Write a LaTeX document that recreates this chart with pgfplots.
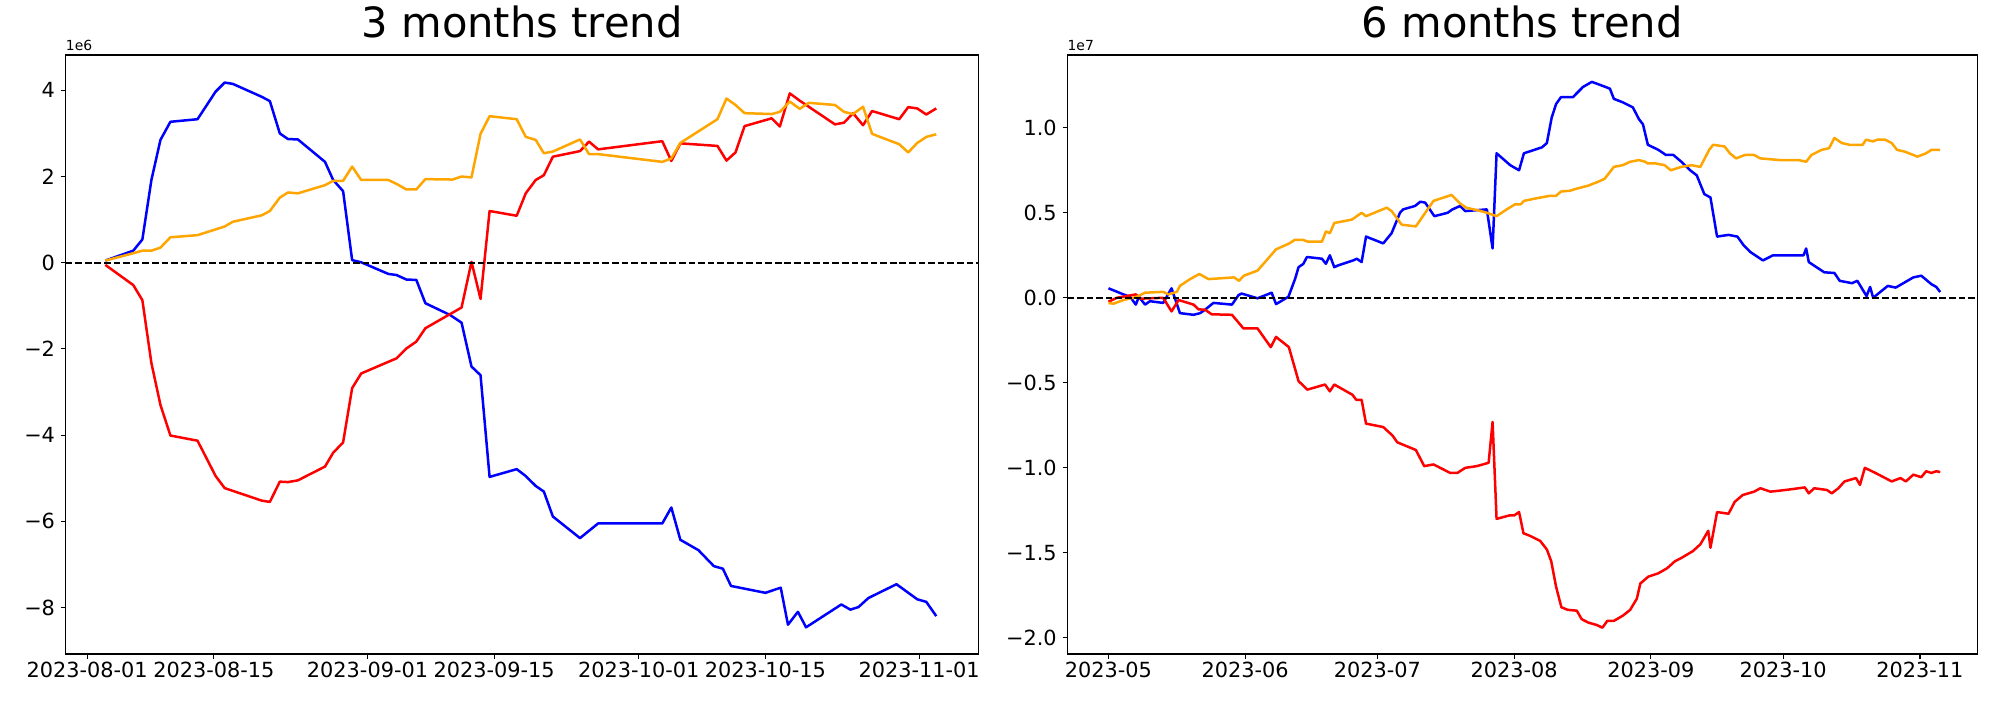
\documentclass[border=0pt]{standalone}
\usepackage{fontspec}
\setmainfont{DejaVu Sans}
\usepackage{pgfplots}
\pgfplotsset{compat=1.18}
\definecolor{mplorange}{RGB}{255,165,0}

\pgfplotsset{trend/.style={
    scale only axis,
    height=431.3pt,
    clip mode=individual,
    axis line style={line width=0.8pt},
    tick align=outside,
    major tick length=3.5pt,
    tick style={black, line width=0.8pt},
    xtick pos=lower, ytick pos=left,
    ticklabel style={font=\fontsize{15}{18}\selectfont, inner sep=0pt},
    yticklabel style={anchor=east, xshift=-4pt},
    xticklabel style={anchor=north, yshift=-2.2pt},
    title style={font=\fontsize{30}{36}\selectfont, at={(0.5,1)}, anchor=base, yshift=6.5pt},
    every axis plot/.append style={line width=1.8pt, line join=round},
}}

\begin{document}
\begin{tikzpicture}
\useasboundingbox (0,0) rectangle (1440pt,504pt);

% ---- 3 months ----
\begin{axis}[trend,
    at={(47.3pt,33.1pt)}, anchor=south west,
    width=657.4pt,
    title={3 months trend},
    xmin=-2.38, xmax=98.6, ymin=-9.08, ymax=4.82,
    xtick={0,14,31,45,61,75,92},
    xticklabels={2023-08-01,2023-08-15,2023-09-01,2023-09-15,2023-10-01,2023-10-15,2023-11-01},
    ytick={-8,-6,-4,-2,0,2,4},
    yticklabels={−8,−6,−4,−2,0,2,4},
]
\addplot[blue] coordinates {
(2.0,0.05) (5.1,0.28) (6.1,0.54) (7.1,1.92) (8.1,2.85) (9.2,3.27) (12.2,3.33) (14.2,3.97)
(15.2,4.18) (16.1,4.15) (19.3,3.85) (20.2,3.75) (21.3,3.00) (22.2,2.87) (23.3,2.86) (26.3,2.34)
(27.2,1.92) (28.3,1.66) (29.3,0.06) (30.3,0.01) (33.3,-0.26) (34.2,-0.285) (35.3,-0.39) (36.4,-0.40)
(37.4,-0.94) (40.1,-1.21) (41.4,-1.39) (42.5,-2.41) (43.5,-2.61) (44.5,-4.97) (47.5,-4.79) (48.5,-4.95)
(49.6,-5.18) (50.5,-5.31) (51.5,-5.89) (54.5,-6.39) (56.5,-6.05) (63.6,-6.05) (64.6,-5.68) (65.6,-6.43)
(67.6,-6.67) (69.3,-7.04) (70.3,-7.10) (71.2,-7.50) (75.0,-7.66) (76.7,-7.54) (77.5,-8.40) (78.6,-8.10)
(79.5,-8.46) (83.4,-7.93) (84.4,-8.05) (85.3,-7.99) (86.4,-7.78) (89.5,-7.46) (91.8,-7.81) (92.8,-7.87)
(93.9,-8.20)
};
\addplot[red] coordinates {
(2.0,-0.05) (5.1,-0.52) (6.1,-0.87) (7.1,-2.33) (8.1,-3.30) (9.2,-4.01) (12.2,-4.13) (14.2,-4.95)
(15.2,-5.23) (19.3,-5.52) (20.2,-5.55) (21.3,-5.08) (22.2,-5.09) (23.3,-5.05) (26.3,-4.73) (27.2,-4.41)
(28.3,-4.17) (29.3,-2.91) (30.3,-2.57) (33.3,-2.30) (34.2,-2.22) (35.3,-1.99) (36.4,-1.83) (37.4,-1.52)
(41.4,-1.04) (42.5,0.02) (43.5,-0.84) (44.5,1.20) (47.5,1.09) (48.5,1.61) (49.6,1.92) (50.5,2.03)
(51.5,2.46) (54.5,2.59) (55.5,2.81) (56.5,2.63) (63.6,2.82) (64.6,2.36) (65.6,2.77) (69.7,2.71)
(70.7,2.37) (71.7,2.56) (72.7,3.17) (75.7,3.35) (76.6,3.16) (77.7,3.93) (78.8,3.76) (82.7,3.21)
(83.7,3.25) (84.7,3.47) (85.8,3.19) (86.8,3.52) (89.8,3.33) (90.8,3.61) (91.8,3.58) (92.8,3.44)
(93.9,3.58)
};
\addplot[mplorange] coordinates {
(2.0,0.05) (5.1,0.22) (6.1,0.28) (7.1,0.28) (8.1,0.35) (9.2,0.59) (12.2,0.64) (15.2,0.84)
(16.1,0.95) (19.3,1.10) (20.2,1.20) (21.3,1.51) (22.2,1.63) (23.3,1.61) (26.3,1.80) (27.2,1.90)
(28.3,1.90) (29.3,2.23) (30.3,1.92) (33.3,1.92) (34.2,1.83) (35.3,1.70) (36.4,1.70) (37.4,1.94)
(40.4,1.93) (41.4,2.00) (42.5,1.98) (43.5,2.99) (44.5,3.40) (47.5,3.33) (48.5,2.92) (49.6,2.85)
(50.5,2.54) (51.5,2.58) (54.5,2.86) (55.5,2.52) (56.5,2.52) (63.6,2.34) (64.6,2.42) (65.6,2.78)
(69.7,3.33) (70.7,3.81) (71.7,3.66) (72.7,3.47) (75.7,3.45) (76.6,3.50) (77.7,3.74) (78.8,3.57)
(79.8,3.71) (82.7,3.66) (83.7,3.50) (84.7,3.45) (85.8,3.62) (86.8,2.99) (89.8,2.75) (90.8,2.56)
(91.8,2.78) (92.8,2.92) (93.9,2.98)
};
\addplot[black, line width=1.3pt, dash pattern=on 4.8pt off 2.1pt] coordinates {(-2.38,0) (98.6,0)};
\node[anchor=base west, inner sep=0pt, font=\fontsize{10}{12}\selectfont, yshift=3.1pt] at (rel axis cs:0,1) {1e6};
\end{axis}

% ---- 6 months ----
\begin{axis}[trend,
    at={(768.5pt,33.1pt)}, anchor=south west,
    width=655pt,
    title={6 months trend},
    xmin=-9.32, xmax=196.96, ymin=-2.095, ymax=1.428,
    xtick={0,31,61,92,123,153,184},
    xticklabels={2023-05,2023-06,2023-07,2023-08,2023-09,2023-10,2023-11},
    ytick={-2,-1.5,-1,-0.5,0,0.5,1},
    yticklabels={−2.0,−1.5,−1.0,−0.5,0.0,0.5,1.0},
]
\addplot[blue] coordinates {
(0,0.056) (3.4,0.02) (4.9,0.006) (6.2,-0.04) (6.9,0.006) (8.3,-0.04) (9.4,-0.02) (12.4,-0.03)
(14.3,0.056) (16.2,-0.09) (19.3,-0.10) (20.8,-0.09) (21.9,-0.07) (23.8,-0.03) (28,-0.04) (29.5,0.016)
(30.2,0.025) (33.8,-0.003) (37,0.03) (38,-0.037) (40.8,0.006) (42.3,0.11) (43.1,0.18) (44.2,0.20)
(45,0.24) (48.4,0.23) (49.3,0.20) (50.2,0.25) (51.2,0.18) (52,0.19) (55.5,0.22) (56.3,0.23)
(57.4,0.21) (58.4,0.36) (62.3,0.32) (64.2,0.38) (66.1,0.50) (66.8,0.52) (69.5,0.54) (70.7,0.565)
(71.8,0.56) (73.9,0.48) (76.9,0.50) (78,0.52) (79.7,0.54) (80.9,0.51) (85.8,0.52) (87.1,0.29)
(88,0.85) (91.1,0.78) (93.1,0.75) (94.2,0.85) (98.3,0.885) (99.4,0.91) (100.5,1.06) (101.5,1.14)
(102.6,1.18) (105.3,1.18) (107.6,1.24) (109.6,1.27) (111.7,1.25) (113.7,1.23) (114.6,1.17) (116.6,1.15)
(118.9,1.12) (120.3,1.05) (121.2,1.02) (122.3,0.90) (124.7,0.87) (126.4,0.84) (128.1,0.84) (129.9,0.80)
(131.9,0.75) (133.4,0.72) (135.1,0.61) (136.5,0.59) (138,0.36) (140.6,0.37) (142.6,0.36) (144,0.31)
(145.5,0.27) (148.4,0.22) (150.7,0.25) (155,0.25) (157.6,0.25) (158.2,0.29) (158.8,0.21) (162.3,0.15)
(164.6,0.146) (165.8,0.10) (168.6,0.086) (169.8,0.10) (171.9,0.01) (172.7,0.064) (173.4,0.0) (174.8,0.03)
(176.7,0.07) (178.5,0.06) (182.5,0.12) (184.3,0.13) (186.6,0.08) (187.7,0.064) (188.6,0.034)
};
\addplot[red] coordinates {
(0,-0.023) (1.9,0.0) (6.2,0.02) (7.3,-0.005) (12.4,0.0) (14.3,-0.08) (15.9,-0.013) (19.3,-0.04)
(20.4,-0.068) (21.9,-0.07) (23.4,-0.097) (28,-0.10) (30.6,-0.18) (33.8,-0.18) (36.8,-0.29) (38,-0.23)
(40.9,-0.29) (43.1,-0.49) (45.1,-0.54) (49.1,-0.51) (50.2,-0.55) (51.2,-0.51) (55.3,-0.57) (56.2,-0.60)
(57.4,-0.60) (58.4,-0.74) (62.3,-0.76) (64.4,-0.81) (65.5,-0.85) (69.7,-0.895) (71.6,-0.99) (73.7,-0.98)
(77.5,-1.03) (79.1,-1.03) (80.9,-1.00) (83.5,-0.99) (84.9,-0.98) (86.2,-0.97) (87.1,-0.73) (88,-1.30)
(90.9,-1.28) (92,-1.28) (93.1,-1.26) (94.1,-1.385) (95.6,-1.40) (97.9,-1.43) (99.4,-1.48) (100.4,-1.55)
(101.5,-1.70) (102.7,-1.82) (104.1,-1.835) (106.2,-1.84) (107.3,-1.89) (108.8,-1.91) (110.8,-1.925) (112,-1.94)
(113.1,-1.90) (114.6,-1.90) (116.6,-1.87) (118.3,-1.835) (119.8,-1.77) (120.6,-1.68) (122.4,-1.64) (124.7,-1.62)
(126.7,-1.59) (128.4,-1.55) (129.9,-1.53) (132.5,-1.49) (134.2,-1.45) (136,-1.37) (136.5,-1.47) (138,-1.26)
(140.6,-1.27) (142,-1.20) (143.8,-1.16) (146.4,-1.14) (147.8,-1.12) (150.1,-1.14) (153.6,-1.13) (156.5,-1.12)
(157.9,-1.115) (158.8,-1.15) (160,-1.12) (162.9,-1.13) (164,-1.15) (165.5,-1.12) (166.9,-1.08) (169.5,-1.06)
(170.4,-1.10) (171.5,-1.00) (173.9,-1.03) (177.6,-1.08) (179.6,-1.06) (180.8,-1.08) (182.5,-1.04) (184.3,-1.055)
(185.4,-1.02) (186.6,-1.03) (187.7,-1.02) (188.6,-1.025)
};
\addplot[mplorange] coordinates {
(0,-0.03) (1.1,-0.035) (3.4,-0.013) (6.4,0.006) (8.3,0.03) (12.4,0.035) (13.6,0.02) (15.5,0.035)
(16.2,0.07) (18.5,0.11) (20.6,0.14) (22.7,0.11) (28.5,0.12) (29.6,0.10) (30.7,0.13) (33.8,0.16)
(38,0.285) (41,0.32) (42.2,0.34) (44.2,0.34) (45.2,0.33) (48.4,0.33) (49.3,0.39) (50.2,0.38)
(51.2,0.44) (55.2,0.46) (57.4,0.50) (58.4,0.48) (63.1,0.53) (64.2,0.51) (66.5,0.43) (69.7,0.42)
(73.7,0.57) (77.8,0.605) (79.7,0.555) (81.1,0.53) (84.5,0.51) (85.8,0.50) (88,0.48) (90.3,0.52)
(92.2,0.55) (93.5,0.55) (94.2,0.57) (97,0.585) (100.1,0.60) (101.5,0.60) (102.6,0.625) (104.7,0.63)
(105.9,0.64) (108.8,0.66) (110.8,0.68) (112.5,0.70) (114.6,0.77) (116.6,0.78) (118.3,0.80) (120.3,0.81)
(121.7,0.80) (122.3,0.79) (124.1,0.79) (126.1,0.78) (127.5,0.75) (129.9,0.77) (132.2,0.78) (134.2,0.77)
(136.2,0.87) (137.1,0.90) (139.7,0.89) (140.9,0.85) (142.3,0.82) (144.3,0.84) (146.4,0.84) (147.8,0.82)
(152.2,0.81) (156.5,0.81) (158.2,0.80) (159.4,0.84) (161.7,0.87) (163.4,0.88) (164.6,0.94) (166.3,0.91)
(168,0.90) (171,0.90) (171.8,0.93) (173.3,0.92) (174.4,0.93) (176.1,0.93) (177.6,0.91) (178.8,0.87)
(180.5,0.86) (182.5,0.84) (183.4,0.83) (185.4,0.85) (186.6,0.87) (188.6,0.87)
};
\addplot[black, line width=1.3pt, dash pattern=on 4.8pt off 2.1pt] coordinates {(-9.32,0) (196.96,0)};
\node[anchor=base west, inner sep=0pt, font=\fontsize{10}{12}\selectfont, yshift=3.1pt] at (rel axis cs:0,1) {1e7};
\end{axis}
\end{tikzpicture}
\end{document}
